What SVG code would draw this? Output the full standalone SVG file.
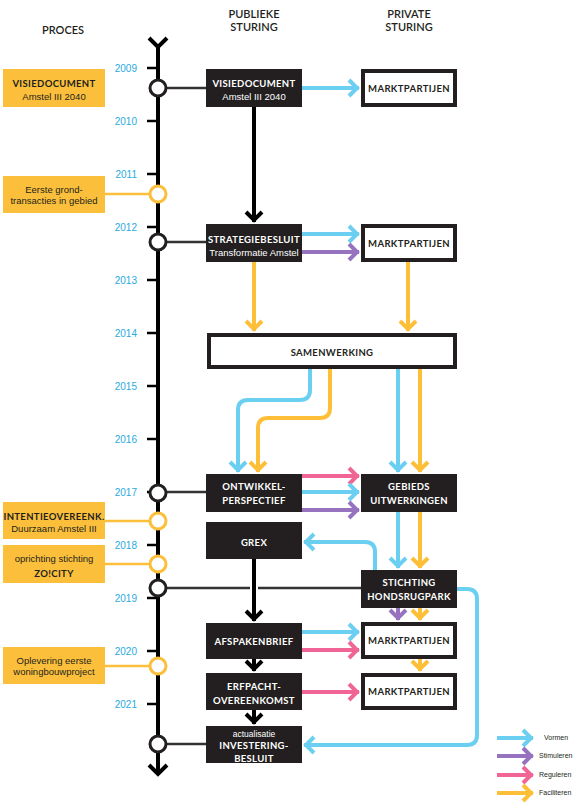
<svg xmlns="http://www.w3.org/2000/svg" width="581" height="803" viewBox="0 0 581 803">
<style>
.head{font-family:Lato,"Noto Sans",sans-serif;font-size:11px;fill:#231f20;text-anchor:middle;font-weight:600}
.year{font-family:"Liberation Sans",Arial,sans-serif;font-size:10px;fill:#29aae1;text-anchor:end}
.ybox{fill:#fcbf3b}
.bbox{fill:#231f20}
.wbox{fill:#fff;stroke:#231f20;stroke-width:4}
.lb{font-family:Lato,"Noto Sans",sans-serif;font-weight:700;font-size:9.5px;text-anchor:middle;letter-spacing:0.35px}
.w{fill:#fff}
.k{fill:#231f20}
.sm{font-family:"Liberation Sans",Arial,sans-serif;font-size:9.5px;text-anchor:middle}
.leg{font-family:"Liberation Sans",Arial,sans-serif;font-size:7px;fill:#231f20}
.tl{stroke:#000;stroke-width:4;fill:none}
.tick{stroke:#000;stroke-width:2.5}
.conn{stroke:#333;stroke-width:2.5;fill:none}
.yconn{stroke:#fcbf3b;stroke-width:2.5;fill:none}
.cb{fill:#fff;stroke:#231f20;stroke-width:3}
.cy{fill:#fff;stroke:#fcbf3b;stroke-width:3}
.ak{stroke:#000;stroke-width:4;fill:none;marker-end:url(#mk)}
.ab{stroke:#6acff0;stroke-width:4;fill:none;marker-end:url(#mb)}
.ap{stroke:#9672bf;stroke-width:4;fill:none;marker-end:url(#mp)}
.ar{stroke:#f06595;stroke-width:4;fill:none;marker-end:url(#mr)}
.ay{stroke:#fdbf38;stroke-width:4;fill:none;marker-end:url(#my)}
</style>
<defs>
<marker id="mk" viewBox="-14 -12 16 24" refX="0" refY="0" markerWidth="16" markerHeight="24" markerUnits="userSpaceOnUse" orient="auto"><path d="M-10,-8 L-2,0 L-10,8" fill="none" stroke="#000" stroke-width="4"/></marker>
<marker id="mb" viewBox="-14 -12 16 24" refX="0" refY="0" markerWidth="16" markerHeight="24" markerUnits="userSpaceOnUse" orient="auto"><path d="M-10,-8 L-2,0 L-10,8" fill="none" stroke="#6acff0" stroke-width="4"/></marker>
<marker id="mp" viewBox="-14 -12 16 24" refX="0" refY="0" markerWidth="16" markerHeight="24" markerUnits="userSpaceOnUse" orient="auto"><path d="M-10,-8 L-2,0 L-10,8" fill="none" stroke="#9672bf" stroke-width="4"/></marker>
<marker id="mr" viewBox="-14 -12 16 24" refX="0" refY="0" markerWidth="16" markerHeight="24" markerUnits="userSpaceOnUse" orient="auto"><path d="M-10,-8 L-2,0 L-10,8" fill="none" stroke="#f06595" stroke-width="4"/></marker>
<marker id="my" viewBox="-14 -12 16 24" refX="0" refY="0" markerWidth="16" markerHeight="24" markerUnits="userSpaceOnUse" orient="auto"><path d="M-10,-8 L-2,0 L-10,8" fill="none" stroke="#fdbf38" stroke-width="4"/></marker>
</defs>
<rect width="581" height="803" fill="#fff"/>

<g id="headings">
<text class="head" x="63" y="34">PROCES</text>
<text class="head" x="254" y="18">PUBLIEKE</text>
<text class="head" x="254" y="31">STURING</text>
<text class="head" x="409" y="18">PRIVATE</text>
<text class="head" x="409" y="31">STURING</text>
</g>

<g id="timeline">
<line class="tl" x1="158" y1="44" x2="158" y2="773"/>
<polyline class="tl" points="149,38 158,47 167,38"/>
<polyline class="tl" points="149,765 158,774 167,765"/>
<g class="tick">
<line x1="147" y1="68" x2="158" y2="68"/><line x1="147" y1="121" x2="158" y2="121"/><line x1="147" y1="174" x2="158" y2="174"/><line x1="147" y1="227" x2="158" y2="227"/><line x1="147" y1="280" x2="158" y2="280"/><line x1="147" y1="333" x2="158" y2="333"/><line x1="147" y1="386" x2="158" y2="386"/><line x1="147" y1="439" x2="158" y2="439"/><line x1="147" y1="492" x2="158" y2="492"/><line x1="147" y1="545" x2="158" y2="545"/><line x1="147" y1="598" x2="158" y2="598"/><line x1="147" y1="651" x2="158" y2="651"/><line x1="147" y1="704" x2="158" y2="704"/>
</g>
<text class="year" x="137" y="72">2009</text>
<text class="year" x="137" y="125">2010</text>
<text class="year" x="137" y="178">2011</text>
<text class="year" x="137" y="231">2012</text>
<text class="year" x="137" y="284">2013</text>
<text class="year" x="137" y="337">2014</text>
<text class="year" x="137" y="390">2015</text>
<text class="year" x="137" y="443">2016</text>
<text class="year" x="137" y="496">2017</text>
<text class="year" x="137" y="549">2018</text>
<text class="year" x="137" y="602">2019</text>
<text class="year" x="137" y="655">2020</text>
<text class="year" x="137" y="708">2021</text>
</g>

<g id="connectors">
<line class="conn" x1="166" y1="88" x2="206" y2="88"/>
<line class="conn" x1="166" y1="242" x2="206" y2="242"/>
<line class="conn" x1="166" y1="492" x2="206" y2="492"/>
<line class="conn" x1="166" y1="588" x2="250" y2="588"/>
<line class="conn" x1="258" y1="588" x2="361" y2="588"/>
<line class="conn" x1="166" y1="744" x2="206" y2="744"/>
<line class="yconn" x1="105" y1="194" x2="150" y2="194"/>
<line class="yconn" x1="105" y1="521" x2="150" y2="521"/>
<line class="yconn" x1="105" y1="564" x2="150" y2="564"/>
<line class="yconn" x1="105" y1="666" x2="150" y2="666"/>

<line class="ak" x1="254" y1="107" x2="254" y2="222"/>
<line class="ak" x1="254" y1="559" x2="254" y2="621"/>
<line class="ak" x1="254" y1="659" x2="254" y2="671"/>
<line class="ak" x1="254" y1="710" x2="254" y2="724"/>

<line class="ab" x1="302" y1="88" x2="359" y2="88"/>
<line class="ab" x1="302" y1="234" x2="359" y2="234"/>
<line class="ap" x1="302" y1="252" x2="359" y2="252"/>
<line class="ay" x1="254" y1="262" x2="254" y2="331"/>
<line class="ay" x1="408" y1="262" x2="408" y2="331"/>

<path class="ab" d="M310,368 V390 Q310,400 300,400 H248 Q238,400 238,410 V472"/>
<path class="ay" d="M330,368 V408 Q330,418 320,418 H268 Q258,418 258,428 V472"/>
<line class="ab" x1="398" y1="368" x2="398" y2="472"/>
<line class="ay" x1="420" y1="368" x2="420" y2="472"/>

<line class="ar" x1="302" y1="476" x2="359" y2="476"/>
<line class="ab" x1="302" y1="492" x2="359" y2="492"/>
<line class="ap" x1="302" y1="510" x2="359" y2="510"/>

<line class="ab" x1="398" y1="512" x2="398" y2="568"/>
<line class="ay" x1="420" y1="512" x2="420" y2="568"/>
<path class="ab" d="M375,570 V552 Q375,542 365,542 H304"/>
<path class="ab" d="M457,589 H467 Q477,589 477,599 V735 Q477,745 467,745 H304"/>

<line class="ap" x1="398" y1="608" x2="398" y2="620"/>
<line class="ay" x1="420" y1="608" x2="420" y2="620"/>
<line class="ab" x1="302" y1="632" x2="359" y2="632"/>
<line class="ar" x1="302" y1="650" x2="359" y2="650"/>
<line class="ay" x1="420" y1="659" x2="420" y2="671"/>
<line class="ar" x1="302" y1="692" x2="359" y2="692"/>
</g>

<g id="circles">
<circle class="cb" cx="158" cy="88" r="8"/>
<circle class="cy" cx="158" cy="194" r="8"/>
<circle class="cb" cx="158" cy="242" r="8"/>
<circle class="cb" cx="158" cy="493" r="8"/>
<circle class="cy" cx="158" cy="521" r="8"/>
<circle class="cy" cx="158" cy="564" r="8"/>
<circle class="cb" cx="158" cy="588" r="8"/>
<circle class="cy" cx="158" cy="666" r="8"/>
<circle class="cb" cx="158" cy="744" r="8"/>
</g>

<g id="p-visiedocument"><rect class="ybox" x="3" y="69" width="102" height="38"/>
<text class="lb k" x="54" y="87">VISIEDOCUMENT</text><text class="sm k" x="54" y="100">Amstel III 2040</text></g>
<g id="p-grondtransacties"><rect class="ybox" x="3" y="176" width="102" height="37"/>
<text class="sm k" x="54" y="193">Eerste grond-</text><text class="sm k" x="54" y="204">transacties in gebied</text></g>
<g id="p-intentie"><rect class="ybox" x="3" y="502" width="102" height="37"/>
<text class="lb k" x="54" y="520">INTENTIEOVEREENK.</text><text class="sm k" x="54" y="532">Duurzaam Amstel III</text></g>
<g id="p-zocity"><rect class="ybox" x="3" y="545" width="102" height="38"/>
<text class="sm k" x="54" y="562">oprichting stichting</text><text class="lb k" x="54" y="577">ZO!CITY</text></g>
<g id="p-oplevering"><rect class="ybox" x="3" y="647" width="102" height="37"/>
<text class="sm k" x="54" y="664">Oplevering eerste</text><text class="sm k" x="54" y="675">woningbouwproject</text></g>

<g id="n-visiedocument"><rect class="bbox" x="206" y="69" width="96" height="38"/>
<text class="lb w" x="254" y="87">VISIEDOCUMENT</text><text class="sm w" x="254" y="100">Amstel III 2040</text></g>
<g id="n-strategiebesluit"><rect class="bbox" x="206" y="224" width="96" height="38"/>
<text class="lb w" x="254" y="243">STRATEGIEBESLUIT</text><text class="sm w" x="254" y="256">Transformatie Amstel</text></g>
<g id="n-samenwerking"><rect class="wbox" x="209" y="335" width="246" height="32"/>
<text class="lb k" x="332" y="356">SAMENWERKING</text></g>
<g id="n-ontwikkel"><rect class="bbox" x="206" y="474" width="96" height="38"/>
<text class="lb w" x="254" y="490">ONTWIKKEL-</text><text class="lb w" x="254" y="504">PERSPECTIEF</text></g>
<g id="n-grex"><rect class="bbox" x="206" y="522" width="96" height="37"/>
<text class="lb w" x="254" y="546">GREX</text></g>
<g id="n-afspakenbrief"><rect class="bbox" x="206" y="623" width="96" height="36"/>
<text class="lb w" x="254" y="645">AFSPAKENBRIEF</text></g>
<g id="n-erfpacht"><rect class="bbox" x="206" y="673" width="96" height="37"/>
<text class="lb w" x="254" y="690">ERFPACHT-</text><text class="lb w" x="254" y="704">OVEREENKOMST</text></g>
<g id="n-investering"><rect class="bbox" x="206" y="726" width="96" height="37"/>
<text class="sm w" x="254" y="737" style="font-size:8.5px">actualisatie</text><text class="lb w" x="254" y="749">INVESTERING-</text><text class="lb w" x="254" y="762">BESLUIT</text></g>

<g id="n-marktpartijen1"><rect class="wbox" x="363" y="71" width="92" height="34"/>
<text class="lb k" x="409" y="92">MARKTPARTIJEN</text></g>
<g id="n-marktpartijen2"><rect class="wbox" x="363" y="226" width="92" height="34"/>
<text class="lb k" x="409" y="247">MARKTPARTIJEN</text></g>
<g id="n-gebieds"><rect class="bbox" x="361" y="474" width="96" height="38"/>
<text class="lb w" x="409" y="490">GEBIEDS</text><text class="lb w" x="409" y="504">UITWERKINGEN</text></g>
<g id="n-stichting"><rect class="bbox" x="361" y="570" width="96" height="38"/>
<text class="lb w" x="409" y="586">STICHTING</text><text class="lb w" x="409" y="600">HONDSRUGPARK</text></g>
<g id="n-marktpartijen3"><rect class="wbox" x="363" y="624" width="92" height="33"/>
<text class="lb k" x="409" y="644">MARKTPARTIJEN</text></g>
<g id="n-marktpartijen4"><rect class="wbox" x="363" y="675" width="92" height="33"/>
<text class="lb k" x="409" y="695">MARKTPARTIJEN</text></g>

<g id="legend">
<line class="ab" x1="497" y1="738" x2="533" y2="738"/>
<line class="ap" x1="497" y1="756" x2="533" y2="756"/>
<line class="ar" x1="497" y1="775" x2="533" y2="775"/>
<line class="ay" x1="497" y1="793" x2="533" y2="793"/>
<text class="leg" x="544" y="740">Vormen</text>
<text class="leg" x="539" y="758">Stimuleren</text>
<text class="leg" x="539" y="777">Reguleren</text>
<text class="leg" x="539" y="795">Faciliteren</text>
</g>
</svg>
